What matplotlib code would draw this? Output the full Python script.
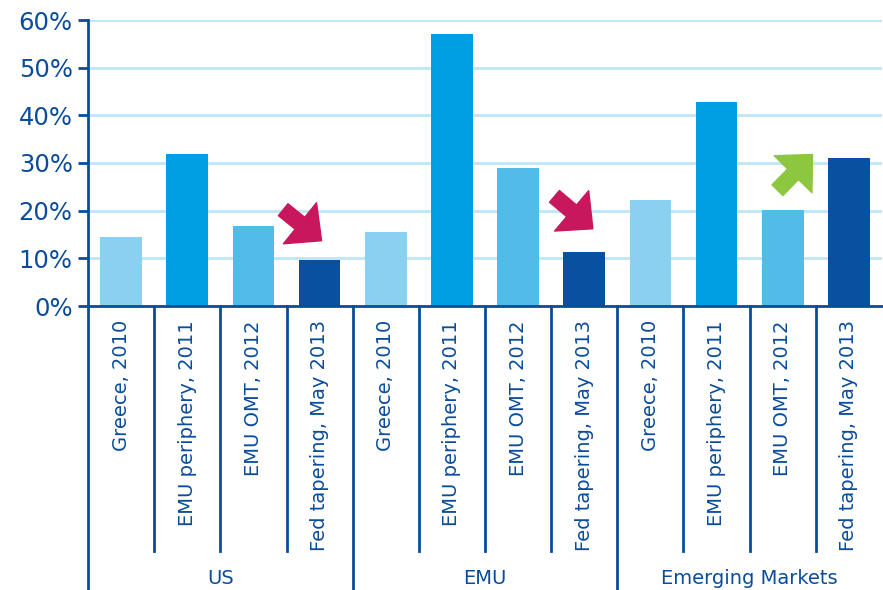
import matplotlib
matplotlib.use('Agg')
import matplotlib.pyplot as plt
from matplotlib.patches import FancyArrowPatch
from matplotlib.transforms import blended_transform_factory

# Share of variance explained, by shock episode and region
groups = ["US", "EMU", "Emerging Markets"]
episodes = ["Greece, 2010", "EMU periphery, 2011", "EMU OMT, 2012", "Fed tapering, May 2013"]
values = {
    "US":               [14.4, 31.9, 16.8, 9.7],
    "EMU":              [15.6, 57.0, 28.9, 11.4],
    "Emerging Markets": [22.2, 42.8, 20.1, 31.0],
}
yticks = [0, 10, 20, 30, 40, 50, 60]

# annotation arrows (tail x, tail y, tip x, tip y) in data units
arrows = [
    (2.95, 20.2, 3.53, 13.7, "#C8175D"),
    (7.05, 23.0, 7.63, 16.2, "#C8175D"),
    (10.42, 24.3, 10.95, 31.8, "#8DC63F"),
]

colors = ["#8BD0F1", "#009FE3", "#53BBEA", "#0A50A1"]
dark = "#0A4C9B"
grid_c = "#BDE6F7"

fig = plt.figure(figsize=(8.83, 5.9), dpi=100)
ax = fig.add_axes([88 / 883, (590 - 306) / 590, (882 - 88) / 883, 286 / 590])

n = len(episodes)
for g, grp in enumerate(groups):
    for i, v in enumerate(values[grp]):
        ax.bar(g * n + i + 0.5, v, width=0.63, color=colors[i], zorder=3)

ax.set_xlim(0, len(groups) * n)
ax.set_ylim(0, 60)
ax.set_yticks(yticks)
ax.set_yticklabels([f"{t}%" for t in yticks], fontsize=17.5, color=dark)
ax.set_xticks([])
for t in yticks[1:]:
    ax.axhline(t, color=grid_c, lw=2, zorder=1)

for s in ["top", "right"]:
    ax.spines[s].set_visible(False)
for s in ["left", "bottom"]:
    ax.spines[s].set_color(dark)
    ax.spines[s].set_linewidth(2)
ax.spines["bottom"].set_zorder(4)
ax.tick_params(axis="y", length=7, width=2, color=dark, pad=4)

# category separators and labels below the axis
tr = blended_transform_factory(ax.transData, fig.transFigure)
y0 = (590 - 306) / 590
y_inner = (590 - 551) / 590
for k in range(len(groups) * n):
    bottom = 0 if k % n == 0 else y_inner
    ax.plot([k, k], [y0, bottom], color=dark, lw=2, transform=tr, clip_on=False)
for g, grp in enumerate(groups):
    for i, ep in enumerate(episodes):
        ax.text(g * n + i + 0.5, (590 - 320) / 590, ep, rotation=90, ha="center",
                va="top", fontsize=14, color=dark, transform=tr)
    ax.text(g * n + n / 2, (590 - 578) / 590, grp, ha="center", va="center",
            fontsize=14, color=dark, transform=tr)

for x1, y1, x2, y2, c in arrows:
    ax.add_patch(FancyArrowPatch((x1, y1), (x2, y2),
                                 arrowstyle="simple,head_length=1.0,head_width=1.9,tail_width=0.55",
                                 mutation_scale=20, color=c, shrinkA=0, shrinkB=0, zorder=5))

fig.savefig("out.png", dpi=100)
